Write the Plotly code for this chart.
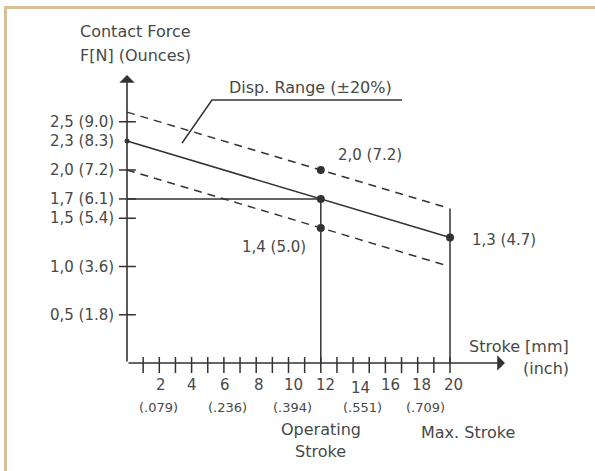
import plotly.graph_objects as go

# ---------------- data ----------------
line_stroke = [0, 20]
nominal_force = [2.3, 1.3]

band_stroke = [0, 19.7]
upper_force = [2.6, 1.615]
lower_force = [2.0, 1.015]

op_stroke = 12
op_force = 1.7
max_stroke = 20
max_line_top = 1.6

point_stroke = [12, 12, 12, 20]
point_force = [2.0, 1.7, 1.4, 1.3]
point_labels = ["2,0 (7.2)", "", "1,4 (5.0)", "1,3 (4.7)"]

start_force = 2.3

y_tick_vals = [0.5, 1.0, 1.5, 1.7, 2.0, 2.5]
y_label_vals = [0.5, 1.0, 1.5, 1.7, 2.0, 2.3, 2.5]
y_label_text = ["0,5 (1.8)", "1,0 (3.6)", "1,5 (5.4)", "1,7 (6.1)",
                "2,0 (7.2)", "2,3 (8.3)", "2,5 (9.0)"]

x_tick_vals = list(range(1, 21))
x_label_vals = [2, 4, 6, 8, 10, 12, 14, 16, 18, 20]
inch_vals = [2, 6, 10, 14, 18]
inch_text = ["(.079)", "(.236)", "(.394)", "(.551)", "(.709)"]

y_axis_top = 2.984
x_axis_end = 23.4

# ---------------- style ----------------
INK = "#333333"
TXT = "#484848"
FONT = "DejaVu Sans"
BORDER = "#D9BE9A"
x_label_shift = [2, 0, 1, 3, 5, 5, 7, 5, 4, 3]
inch_label_shift = [-1, 4, 4, 9, 8]

fig = go.Figure()

ann = []
ann.append(dict(x=0, y=y_axis_top, ax=0, ay=0, xref="x", yref="y", axref="x", ayref="y",
                showarrow=True, arrowhead=1, arrowsize=1.6, arrowwidth=1.6, arrowcolor=INK, text=""))
ann.append(dict(x=x_axis_end, y=0, ax=0, ay=0, xref="x", yref="y", axref="x", ayref="y",
                showarrow=True, arrowhead=1, arrowsize=1.6, arrowwidth=1.6, arrowcolor=INK, text=""))

# y ticks
ytx, yty = [], []
for v in y_tick_vals:
    ytx += [-0.5, 0.55, None]
    yty += [v, v, None]
fig.add_trace(go.Scatter(x=ytx, y=yty, mode="lines", line=dict(color=INK, width=1.5),
                         hoverinfo="skip", showlegend=False))
# x ticks
xtx, xty = [], []
for v in x_tick_vals:
    xtx += [v, v, None]
    xty += [0.062, -0.104, None]
fig.add_trace(go.Scatter(x=xtx, y=xty, mode="lines", line=dict(color=INK, width=1.5),
                         hoverinfo="skip", showlegend=False))

# dashed band lines
for yy in (upper_force, lower_force):
    fig.add_trace(go.Scatter(x=band_stroke, y=yy, mode="lines",
                             line=dict(color=INK, width=1.5, dash="8px,6px"),
                             hoverinfo="skip", showlegend=False))
# nominal line
fig.add_trace(go.Scatter(x=line_stroke, y=nominal_force, mode="lines",
                         line=dict(color=INK, width=1.6), hoverinfo="skip", showlegend=False))
# operating stroke lines
fig.add_trace(go.Scatter(x=[0, op_stroke, op_stroke], y=[op_force, op_force, 0], mode="lines",
                         line=dict(color=INK, width=1.5), hoverinfo="skip", showlegend=False))
# max stroke line
fig.add_trace(go.Scatter(x=[max_stroke, max_stroke], y=[0, max_line_top], mode="lines",
                         line=dict(color=INK, width=1.5), hoverinfo="skip", showlegend=False))
# points
fig.add_trace(go.Scatter(x=point_stroke, y=point_force, mode="markers",
                         marker=dict(color=INK, size=8), hoverinfo="skip", showlegend=False))
fig.add_trace(go.Scatter(x=[0], y=[start_force], mode="markers",
                         marker=dict(color=INK, size=5), hoverinfo="skip", showlegend=False))

# Disp. range leader
fig.add_trace(go.Scatter(x=[3.41, 5.26, 17.03], y=[2.28, 2.725, 2.725], mode="lines",
                         line=dict(color=INK, width=1.5), hoverinfo="skip", showlegend=False))

f16 = dict(family=FONT, size=16, color=TXT)
f15 = dict(family=FONT, size=15, color=TXT)
f13 = dict(family=FONT, size=13, color=TXT)

def txt(x, y, s, font, xanchor="center", yanchor="middle", xshift=0, yshift=0):
    ann.append(dict(x=x, y=y, xref="x", yref="y", text=s, showarrow=False, font=font,
                    xanchor=xanchor, yanchor=yanchor, xshift=xshift, yshift=yshift))

for v, s in zip(y_label_vals, y_label_text):
    txt(-0.68, v, s, f15, xanchor="right")
for v, sh in zip(x_label_vals, x_label_shift):
    txt(v, -0.228, str(v), f15, xshift=sh, yshift=(-3 if v == 14 else 0))
for v, s, sh in zip(inch_vals, inch_text, inch_label_shift):
    txt(v, -0.466, s, f13, xshift=sh)

txt(-3.03, 3.44, "Contact Force", f16, xanchor="left")
txt(-3.03, 3.19, "F[N] (Ounces)", f16, xanchor="left")
txt(27.5, 0.176, "Stroke [mm]", f16, xanchor="right")
txt(27.5, -0.052, "(inch)", f16, xanchor="right")
txt(12, -0.694, "Operating", f16)
txt(12, -0.922, "Stroke", f16)
txt(21.1, -0.725, "Max. Stroke", f16)
txt(6.19, 2.85, "Disp. Range (±20%)", f16, xanchor="left")

txt(12.94, 2.155, point_labels[0], f15, xanchor="left")
txt(7.0, 1.202, point_labels[2], f15, xanchor="left")
txt(21.24, 1.275, point_labels[3], f15, xanchor="left")

W, H = 595, 471
shapes = [
    dict(type="line", xref="paper", yref="paper", x0=5.5 / W, x1=5.5 / W, y0=0, y1=1 - 7.5 / H,
         line=dict(color=BORDER, width=3)),
    dict(type="line", xref="paper", yref="paper", x0=4 / W, x1=1, y0=1 - 7.5 / H, y1=1 - 7.5 / H,
         line=dict(color=BORDER, width=3)),
]

fig.update_layout(
    width=W, height=H, autosize=False,
    margin=dict(l=0, r=0, t=0, b=0),
    paper_bgcolor="white", plot_bgcolor="white",
    xaxis=dict(visible=False, range=[-127 / 16.15, (595 - 127) / 16.15], fixedrange=True),
    yaxis=dict(visible=False, range=[-108 / 96.5, 363 / 96.5], fixedrange=True),
    annotations=ann, shapes=shapes,
)

fig.write_html("out.html", config={"displayModeBar": False},
               post_script="document.body.style.margin='0';document.body.style.overflow='hidden';")
